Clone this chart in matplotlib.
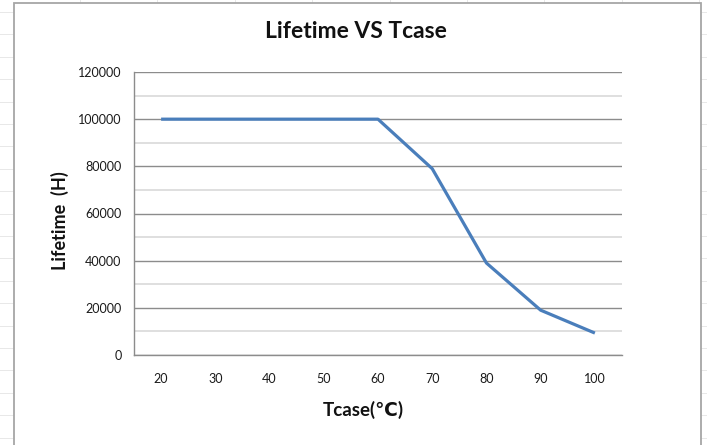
import matplotlib.pyplot as plt
from matplotlib.lines import Line2D
from matplotlib.patches import Rectangle
from matplotlib.ticker import MultipleLocator

# data
tcase = [20, 30, 40, 50, 60, 70, 80, 90, 100]
lifetime = [100000, 100000, 100000, 100000, 100000, 79000, 39000, 19000, 9300]

W, H = 707, 445
FONT = ['Lato', 'DejaVu Sans']

fig = plt.figure(figsize=(W / 100, H / 100), dpi=100)
fig.patch.set_facecolor('white')

# spreadsheet cells behind the chart
for i in range(25):
    y = 1 - (12 + 22.4 * i) / H
    fig.add_artist(Line2D([0, 1], [y, y], color='#e8e8e8', lw=0.7, zorder=0))
for i in range(10):
    x = (80 + 77.4 * i) / W
    fig.add_artist(Line2D([x, x], [0, 1], color='#e8e8e8', lw=0.7, zorder=0))

# chart area
fig.add_artist(Rectangle((13.5 / W, -0.02), (700.5 - 13.5) / W, 1.02 - 3.5 / H,
                         transform=fig.transFigure, facecolor='white',
                         edgecolor='#a6a6a6', lw=1.3, zorder=1))

ax = fig.add_axes([134 / W, 1 - 355 / H, (622 - 134) / W, (355 - 72) / H], zorder=2)
ax.patch.set_alpha(0)

xs = range(len(tcase))
ax.plot(xs, lifetime, color='#4a7ebb', lw=2.3, solid_capstyle='butt', zorder=3)

ax.set_xlim(-0.5, len(tcase) - 0.5)
ax.set_ylim(0, 120000)
ax.set_xticks(list(xs))
ax.set_xticklabels([str(t) for t in tcase])
ax.yaxis.set_major_locator(MultipleLocator(20000))
ax.yaxis.set_minor_locator(MultipleLocator(10000))
ax.grid(axis='y', which='major', color='#8c8c8c', lw=1.0)
ax.grid(axis='y', which='minor', color='#d9d9d9', lw=1.2)
ax.set_axisbelow(True)

for s in ['top', 'right']:
    ax.spines[s].set_visible(False)
for s in ['left', 'bottom']:
    ax.spines[s].set_color('#8c8c8c')
    ax.spines[s].set_linewidth(1.0)

ax.tick_params(axis='both', which='both', length=0, labelcolor='#1a1a1a', labelsize=9)
ax.tick_params(axis='x', pad=13)
ax.tick_params(axis='y', pad=9)
for lab in ax.get_xticklabels() + ax.get_yticklabels():
    lab.set_family(FONT)

fig.text(356 / W, 1 - 32 / H, 'Lifetime VS Tcase', ha='center', va='center',
         fontsize=16.5, fontweight='bold', family=FONT, color='#111111')
fig.text(60 / W, 1 - 221 / H, 'Lifetime  (H)', ha='center', va='center', rotation=90,
         fontsize=13, fontweight='bold', family=FONT, color='#111111')
fig.text(363 / W, 1 - 410 / H, 'Tcase(℃)', ha='center', va='center',
         fontsize=13.5, fontweight='bold', family=FONT, color='#111111')

fig.savefig('out.png', dpi=100)
